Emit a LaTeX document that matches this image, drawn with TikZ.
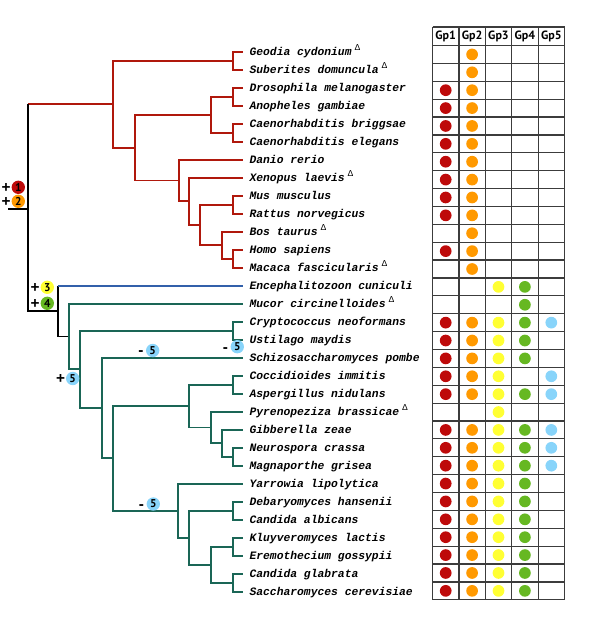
\documentclass[tikz,border=0pt]{standalone}
\usepackage{fontspec}
\setsansfont{PT Sans}
\setmonofont{Liberation Mono}
\newfontfamily\deltafont{Liberation Sans}
\usepackage{tikz}

\definecolor{animalred}{RGB}{176,24,12}
\definecolor{microblue}{RGB}{50,96,170}
\definecolor{fungusgreen}{RGB}{26,102,86}
\definecolor{gpred}{RGB}{190,10,10}
\definecolor{gporange}{RGB}{255,153,0}
\definecolor{gpyellow}{RGB}{255,255,51}
\definecolor{gpgreen}{RGB}{102,184,34}
\definecolor{gpblue}{RGB}{136,212,250}
\definecolor{gridgray}{RGB}{60,60,60}

\tikzset{
  branch/.style={line width=1.4pt},
  stem/.style={branch, black},
  animal/.style={branch, color=animalred},
  micro/.style={branch, color=microblue},
  fungus/.style={branch, color=fungusgreen},
  taxon/.style={anchor=west, inner xsep=4.5pt, inner ysep=0pt, text height=6.4pt, text depth=0pt,
    font=\ttfamily\bfseries\itshape\fontsize{8.5}{10}\selectfont},
  badge/.style={circle, inner sep=0pt, minimum size=10pt, font=\sffamily\bfseries\fontsize{8.5}{8.5}\selectfont},
  sign/.style={inner sep=0pt, label distance=0.3pt, text height=8.2pt, text depth=0pt,
    font=\deltafont\bfseries\fontsize{11.5}{11.5}\selectfont},
  minus/.style={sign, label distance=1.5pt},
  cell/.style={line width=0.9pt, color=gridgray},
  gphead/.style={font=\sffamily\bfseries\fontsize{9}{10}\selectfont},
}
\newcommand{\tri}{\hspace{2.2pt}\raisebox{4pt}{\deltafont\mdseries\upshape\fontsize{6.5}{6.5}\selectfont Δ}}

\begin{document}
\begin{tikzpicture}[x=0.75pt,y=0.75pt,yscale=-1]
\useasboundingbox (0,0) rectangle (600,635);

%Taxa
\node[taxon] (geo) at (243.3,51.7) {Geodia cydonium\tri};
\node[taxon] (sub) at (243.3,69.7) {Suberites domuncula\tri};
\node[taxon] (dro) at (243.3,87.7) {Drosophila melanogaster};
\node[taxon] (ano) at (243.3,105.7) {Anopheles gambiae};
\node[taxon] (cbr) at (243.3,123.7) {Caenorhabditis briggsae};
\node[taxon] (cel) at (243.3,141.7) {Caenorhabditis elegans};
\node[taxon] (dre) at (243.3,159.7) {Danio rerio};
\node[taxon] (xla) at (243.3,177.7) {Xenopus laevis\tri};
\node[taxon] (mmu) at (243.3,195.7) {Mus musculus};
\node[taxon] (rno) at (243.3,213.7) {Rattus norvegicus};
\node[taxon] (bta) at (243.3,231.7) {Bos taurus\tri};
\node[taxon] (hsa) at (243.3,249.7) {Homo sapiens};
\node[taxon] (mfa) at (243.3,267.7) {Macaca fascicularis\tri};
\node[taxon] (ecu) at (243.3,285.7) {Encephalitozoon cuniculi};
\node[taxon] (mci) at (243.3,303.7) {Mucor circinelloides\tri};
\node[taxon] (cne) at (243.3,321.7) {Cryptococcus neoformans};
\node[taxon] (uma) at (243.3,339.7) {Ustilago maydis};
\node[taxon] (spo) at (243.3,357.7) {Schizosaccharomyces pombe};
\node[taxon] (cim) at (243.3,375.7) {Coccidioides immitis};
\node[taxon] (ani) at (243.3,393.7) {Aspergillus nidulans};
\node[taxon] (pbr) at (243.3,411.7) {Pyrenopeziza brassicae\tri};
\node[taxon] (gze) at (243.3,429.7) {Gibberella zeae};
\node[taxon] (ncr) at (243.3,447.7) {Neurospora crassa};
\node[taxon] (mgr) at (243.3,465.7) {Magnaporthe grisea};
\node[taxon] (yli) at (243.3,483.7) {Yarrowia lipolytica};
\node[taxon] (dha) at (243.3,501.7) {Debaryomyces hansenii};
\node[taxon] (cal) at (243.3,519.7) {Candida albicans};
\node[taxon] (kla) at (243.3,537.7) {Kluyveromyces lactis};
\node[taxon] (ego) at (243.3,555.7) {Eremothecium gossypii};
\node[taxon] (cgl) at (243.3,573.7) {Candida glabrata};
\node[taxon] (sce) at (243.3,591.7) {Saccharomyces cerevisiae};

%Inner nodes, animals
\coordinate (spong) at (232.7,60.7);
\coordinate (insec) at (232.7,96.7);
\coordinate (nemat) at (232.7,132.7);
\coordinate (ecdys) at (210.7,114.7);
\coordinate (roden) at (232.7,204.7);
\coordinate (prima) at (232.7,258.7);
\coordinate (laura) at (221.7,245.2);
\coordinate (mamma) at (200,225);
\coordinate (tetra) at (189,201.3);
\coordinate (verte) at (178.7,180.5);
\coordinate (bilat) at (134.7,147.6);
\coordinate (metaz) at (113.3,104.1);
%Root
\coordinate (base) at (8,209);
\coordinate (root) at (27.7,209);
%Inner nodes, fungi
\coordinate (funga) at (58.3,311.1);
\coordinate (fungb) at (69,336.5);
\coordinate (dikar) at (80,369.4);
\coordinate (basid) at (232.7,330.7);
\coordinate (ascom) at (101.7,408.1);
\coordinate (pezsa) at (113.3,458.4);
\coordinate (pezmy) at (189.3,406.1);
\coordinate (eurot) at (232.7,384.7);
\coordinate (sorda) at (211,427.5);
\coordinate (sordb) at (221.7,443.2);
\coordinate (sordc) at (232.7,456.7);
\coordinate (sacca) at (178.3,510.7);
\coordinate (saccb) at (189.3,537.7);
\coordinate (debca) at (232.7,510.7);
\coordinate (wgdup) at (211,564.7);
\coordinate (kluer) at (232.7,546.7);
\coordinate (glace) at (232.7,582.7);

%Animal branches
\draw[animal] (spong) |- (geo.west) (spong) |- (sub.west);
\draw[animal] (insec) |- (dro.west) (insec) |- (ano.west);
\draw[animal] (nemat) |- (cbr.west) (nemat) |- (cel.west);
\draw[animal] (ecdys) |- (insec) (ecdys) |- (nemat);
\draw[animal] (roden) |- (mmu.west) (roden) |- (rno.west);
\draw[animal] (prima) |- (hsa.west) (prima) |- (mfa.west);
\draw[animal] (laura) |- (bta.west) (laura) |- (prima);
\draw[animal] (mamma) |- (roden) (mamma) |- (laura);
\draw[animal] (tetra) |- (xla.west) (tetra) |- (mamma);
\draw[animal] (verte) |- (dre.west) (verte) |- (tetra);
\draw[animal] (bilat) |- (ecdys) (bilat) |- (verte);
\draw[animal] (metaz) |- (spong) (metaz) |- (bilat);
\draw[animal] (root |- metaz) -- (metaz);

%Root and stem
\draw[stem] (base) -- (root);
\draw[stem] (root) -- (root |- metaz);
\draw[stem] (root) |- (funga);
\draw[stem] (funga) |- (fungb);
\draw[stem] (funga) -- (funga |- ecu.west);
\draw[micro] (funga |- ecu.west) -- (ecu.west);

%Fungal branches
\draw[fungus] (fungb) |- (mci.west) (fungb) |- (dikar);
\draw[fungus] (dikar) |- (basid) (dikar) |- (ascom);
\draw[fungus] (basid) |- (cne.west) (basid) |- (uma.west);
\draw[fungus] (ascom) |- (spo.west) (ascom) |- (pezsa);
\draw[fungus] (pezsa) |- (pezmy) (pezsa) |- (sacca);
\draw[fungus] (pezmy) |- (eurot) (pezmy) |- (sorda);
\draw[fungus] (eurot) |- (cim.west) (eurot) |- (ani.west);
\draw[fungus] (sorda) |- (pbr.west) (sorda) |- (sordb);
\draw[fungus] (sordb) |- (gze.west) (sordb) |- (sordc);
\draw[fungus] (sordc) |- (ncr.west) (sordc) |- (mgr.west);
\draw[fungus] (sacca) |- (yli.west) (sacca) |- (saccb);
\draw[fungus] (saccb) |- (debca) (saccb) |- (wgdup);
\draw[fungus] (debca) |- (dha.west) (debca) |- (cal.west);
\draw[fungus] (wgdup) |- (kluer) (wgdup) |- (glace);
\draw[fungus] (kluer) |- (kla.west) (kluer) |- (ego.west);
\draw[fungus] (glace) |- (cgl.west) (glace) |- (sce.west);

%Gains and losses
\node[badge, fill=gpred, label={[sign]left:+}] (gain1) at (18.3,187.3) {1};
\node[badge, fill=gporange, label={[sign]left:+}] (gain2) at (18.3,201.3) {2};
\node[badge, fill=gpyellow, label={[sign]left:+}] (gain3) at (47.3,287.3) {3};
\node[badge, fill=gpgreen, label={[sign]left:+}] (gain4) at (47.3,303.3) {4};
\node[badge, fill=gpblue, label={[sign]left:+}] (gain5) at (72.7,378.5) {5};
\node[badge, fill=gpblue, label={[minus]left:-}] (loss5a) at (152.7,350.5) {5};
\node[badge, fill=gpblue, label={[minus]left:-}] (loss5b) at (237.3,346.7) {5};
\node[badge, fill=gpblue, label={[minus]left:-}] (loss5c) at (153.3,504) {5};

%Table
\foreach \i in {1,...,5}
  \node[gphead] (gp\i) at ({445.7+26.4*(\i-1)},36.5) {Gp\i};
\foreach \c/\hue/\rows in {0/gpred/{2,3,4,5,6,7,8,9,11,15,16,17,18,19,21,22,23,24,25,26,27,28,29,30},
    1/gporange/{0,1,2,3,4,5,6,7,8,9,10,11,12,15,16,17,18,19,21,22,23,24,25,26,27,28,29,30},
    2/gpyellow/{13,15,16,17,18,19,20,21,22,23,24,25,26,27,28,29,30},
    3/gpgreen/{13,14,15,16,17,19,21,22,23,24,25,26,27,28,29,30},
    4/gpblue/{15,18,19,21,22,23}}
  \foreach \r in \rows
    \fill[\hue] ({445.7+26.4*\c},{45.5+17.88*(\r+0.5)}) circle (4.4pt);
\draw[cell] (432.5,27) -- (564.5,27);
\foreach \k in {0,...,31}
  \draw[cell] (432.5,{45.5+17.88*\k}) -- (564.5,{45.5+17.88*\k});
\foreach \j in {0,...,5}
  \draw[cell] ({432.5+26.4*\j},27) -- ({432.5+26.4*\j},599.8);

\end{tikzpicture}
\end{document}
